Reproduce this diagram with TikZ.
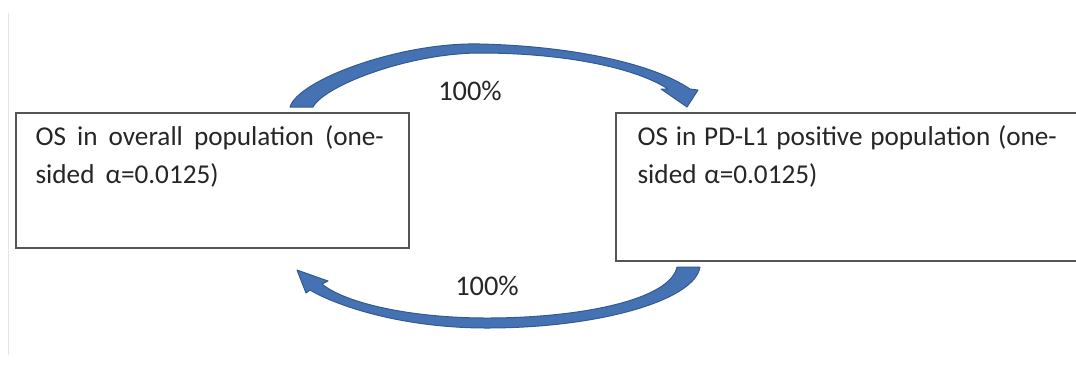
\documentclass[tikz,border=0pt]{standalone}
\usepackage{fontspec}
\setmainfont{Carlito}[WordSpace=1.8]
\usetikzlibrary{calc}
\definecolor{arrowblue}{RGB}{68,114,178}
\definecolor{arrowedge}{RGB}{52,90,145}
\definecolor{boxline}{RGB}{85,85,85}
\tikzset{
  box/.style={draw=boxline,line width=1pt,inner sep=0pt,anchor=north west},
  txt/.style={anchor=north west,inner sep=0pt,align=left,text=black!85,
    font=\fontsize{13.6}{19}\selectfont},
  pct/.style={anchor=base,inner sep=0pt,text=black!85,
    font=\fontsize{14.2}{17}\selectfont},
  curvedarrow/.style={fill=arrowblue,draw=arrowedge,line width=0.5pt,line join=round}
}
\begin{document}
\begin{tikzpicture}[x=0.5pt,y=-0.5pt,semithick]
\useasboundingbox (0,0) rectangle (1076,366);
\clip (0,0) rectangle (1076,366);
\fill[white] (0,0) rectangle (1076,366);
\draw[black!10,thin] (8,13) -- (8,355);
\node[box,minimum width=196.5pt,minimum height=67.5pt] (overall) at (15,112) {};
\node[box,minimum width=240pt,minimum height=74pt] (pdl) at (615,112) {};
\node[txt] (overallTxt) at ($(overall.north west)+(20,13)$) {OS in overall population (one-\\sided α=0.0125)};
\node[txt,font={\fontsize{13.6}{19}\selectfont\spaceskip=3.9pt\relax}] (pdlTxt)
  at ($(pdl.north west)+(22,13)$) {OS in PD-L1 positive population (one-\\sided α=0.0125)};
\coordinate (topStart) at ($(overall.north west)+(275,-5)$);
\coordinate (topTip) at ($(pdl.north west)+(72,-5)$);
\coordinate (botStart) at ($(pdl.south west)+(85,5)$);
\coordinate (botTip) at ($(overall.south east)+(-113,21)$);
\filldraw[curvedarrow] (topStart) .. controls (298,80) and (400,42) .. (480,44)
  .. controls (570,46) and (652,63) .. (690,89)
  -- (698,90) -- (topTip) -- (661,89) -- (668,89)
  .. controls (636,68) and (565,53) .. (480,53)
  .. controls (410,53) and (325,85) .. ($(topStart)+(23,0)$) -- cycle;
\filldraw[curvedarrow] (botStart) .. controls (695,300) and (600,328) .. (487,328)
  .. controls (400,328) and (335,305) .. (310,290)
  -- (306,293) -- (botTip) -- (328,281) -- (322,284)
  .. controls (345,303) and (410,318) .. (487,318)
  .. controls (580,318) and (670,300) .. ($(botStart)+(-23,0)$) -- cycle;
\node[pct] (topPct) at (470,100) {100\%};
\node[pct] (botPct) at (487,295) {100\%};
\end{tikzpicture}
\end{document}
